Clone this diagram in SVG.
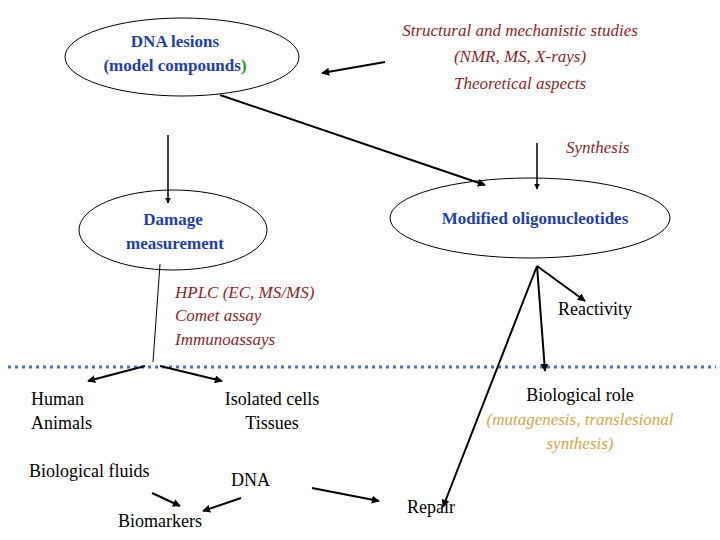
<svg xmlns="http://www.w3.org/2000/svg" width="720" height="540" viewBox="0 0 720 540">
<style>
text{font-family:"Liberation Serif","DejaVu Serif",serif;}
.b{fill:#1f3fa8;font-weight:bold;font-size:17px;text-anchor:middle}
.r{fill:#8b1f2a;font-style:italic;font-size:17px}
.k{fill:#000;font-size:18px}
.e{fill:#fff;stroke:#000;stroke-width:1}
.c line,.c path{stroke:#000;stroke-width:2;fill:none}
</style>
<defs><marker id="a" viewBox="0 0 10 10" refX="9" refY="5" markerWidth="4" markerHeight="4" orient="auto"><path d="M0,0L10,5L0,10z" fill="#000"/></marker></defs>
<rect width="720" height="540" fill="#fff"/>
<line x1="8" y1="367" x2="716" y2="367" stroke="#4a6fc0" stroke-width="3" stroke-dasharray="3,4"/>
<g id="n1"><ellipse class="e" cx="182" cy="57" rx="117" ry="39"/><text class="b" x="175" y="47">DNA lesions</text><text class="b" x="175" y="71">(model compounds<tspan fill="#1a9a1a">)</tspan></text></g>
<g id="n2"><text class="r" x="520" y="36" text-anchor="middle">Structural and mechanistic studies</text><text class="r" x="520" y="62" text-anchor="middle">(NMR, MS, X-rays)</text><text class="r" x="520" y="89" text-anchor="middle">Theoretical aspects</text></g>
<g id="n3"><text class="r" x="566" y="153">Synthesis</text></g>
<g id="n4"><ellipse class="e" cx="173" cy="230" rx="94" ry="40"/><text class="b" x="173" y="225">Damage</text><text class="b" x="175" y="249">measurement</text></g>
<g id="n5"><ellipse class="e" cx="530" cy="218" rx="140" ry="40"/><text class="b" x="535" y="224">Modified oligonucleotides</text></g>
<g id="n6"><text class="r" x="175" y="298">HPLC (EC, MS/MS)</text><text class="r" x="175" y="321">Comet assay</text><text class="r" x="175" y="345">Immunoassays</text></g>
<g id="n7"><text class="k" x="558" y="315">Reactivity</text></g>
<g id="n8"><text class="k" x="31" y="405">Human</text><text class="k" x="31" y="429">Animals</text></g>
<g id="n9"><text class="k" x="272" y="405" text-anchor="middle">Isolated cells</text><text class="k" x="272" y="429" text-anchor="middle">Tissues</text></g>
<g id="n10"><text class="k" x="580" y="401" text-anchor="middle">Biological role</text><text class="r" x="580" y="425" text-anchor="middle" style="fill:#d4a645">(mutagenesis, translesional</text><text class="r" x="580" y="449" text-anchor="middle" style="fill:#d4a645">synthesis)</text></g>
<g id="n11"><text class="k" x="29" y="477">Biological fluids</text></g>
<g id="n12"><text class="k" x="231" y="486">DNA</text></g>
<g id="n13"><text class="k" x="118" y="527">Biomarkers</text></g>
<g id="n14"><text class="k" x="407" y="513">Repair</text></g>
<g class="c" id="connectors">
<line x1="385" y1="62" x2="322" y2="73" marker-end="url(#a)"/>
<line x1="220" y1="95" x2="485" y2="185" marker-end="url(#a)"/>
<line x1="168" y1="135" x2="168" y2="203" marker-end="url(#a)" style="stroke-width:1.5"/>
<line x1="537" y1="143" x2="537" y2="189" marker-end="url(#a)" style="stroke-width:1.5"/>
<path d="M160,264 L153,362" style="stroke-width:1"/>
<line x1="145" y1="366" x2="88" y2="381" marker-end="url(#a)"/>
<line x1="160" y1="366" x2="222" y2="381" marker-end="url(#a)"/>
<line x1="537" y1="266" x2="585" y2="301" marker-end="url(#a)"/>
<line x1="537" y1="266" x2="545" y2="371" marker-end="url(#a)"/>
<line x1="537" y1="266" x2="443" y2="507" marker-end="url(#a)"/>
<line x1="312" y1="488" x2="379" y2="501" marker-end="url(#a)"/>
<line x1="152" y1="493" x2="180" y2="506" marker-end="url(#a)"/>
<line x1="241" y1="498" x2="203" y2="511" marker-end="url(#a)"/>
</g>
</svg>
